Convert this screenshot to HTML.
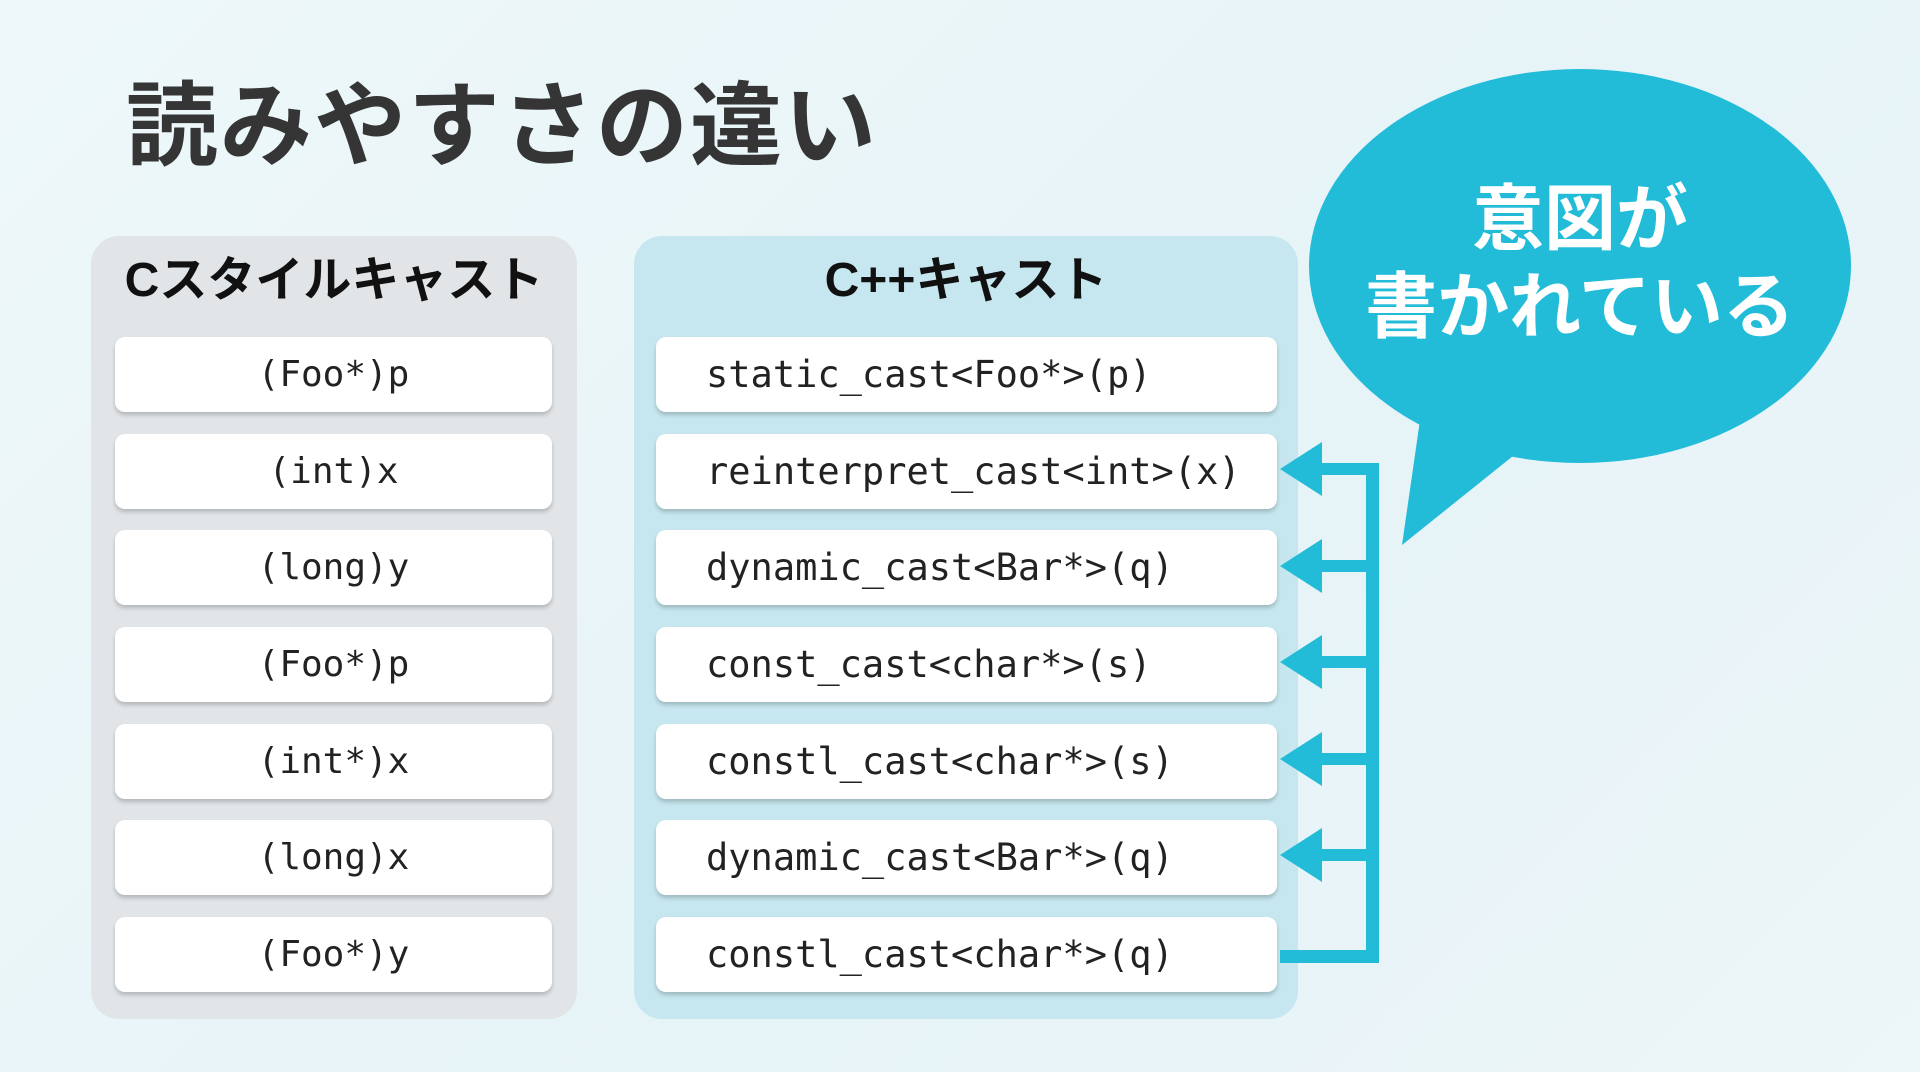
<!DOCTYPE html>
<html><head><meta charset="utf-8"><style>
*{margin:0;padding:0;box-sizing:border-box}
body{width:1920px;height:1072px;overflow:hidden;background:linear-gradient(135deg,#eef8fa,#e6f3f7 60%,#edf6f9);font-family:"Liberation Sans","Noto Sans CJK JP",sans-serif;position:relative}
.title{position:absolute;left:126px;top:72px;font-size:92px;font-weight:bold;color:#353535;letter-spacing:2px;line-height:1.2}
.panel{position:absolute;top:236px;height:783px;border-radius:28px}
.hdr{position:absolute;top:246px;font-size:48px;font-weight:bold;color:#111;text-align:center;line-height:70px}
.box{position:absolute;height:75px;background:#fff;border-radius:10px;box-shadow:0 3px 4px rgba(0,0,0,.2);font-family:"DejaVu Sans Mono","Liberation Mono",monospace;font-size:37px;color:#222;line-height:75px}
.l{left:115px;width:437px;text-align:center;font-size:36px}
.r{left:656px;width:621px;padding-left:50px}
.bt{position:absolute;color:#fff;font-weight:bold;font-size:72px;text-align:center;width:500px;left:1330px;line-height:1}
</style></head><body>
<div class="title">読みやすさの違い</div>
<div class="panel" style="left:91px;width:486px;background:#e1e5e7"></div>
<div class="panel" style="left:634px;width:664px;background:#c6e7ef"></div>
<div class="hdr" style="left:91px;width:486px">Cスタイルキャスト</div>
<div class="hdr" style="left:634px;width:664px">C++キャスト</div>

<div class="box l" style="top:337px">(Foo*)p</div>
<div class="box l" style="top:434px">(int)x</div>
<div class="box l" style="top:530px">(long)y</div>
<div class="box l" style="top:627px">(Foo*)p</div>
<div class="box l" style="top:724px">(int*)x</div>
<div class="box l" style="top:820px">(long)x</div>
<div class="box l" style="top:917px">(Foo*)y</div>

<div class="box r" style="top:337px">static_cast&lt;Foo*&gt;(p)</div>
<div class="box r" style="top:434px">reinterpret_cast&lt;int&gt;(x)</div>
<div class="box r" style="top:530px">dynamic_cast&lt;Bar*&gt;(q)</div>
<div class="box r" style="top:627px">const_cast&lt;char*&gt;(s)</div>
<div class="box r" style="top:724px">constl_cast&lt;char*&gt;(s)</div>
<div class="box r" style="top:820px">dynamic_cast&lt;Bar*&gt;(q)</div>
<div class="box r" style="top:917px">constl_cast&lt;char*&gt;(q)</div>

<svg width="1920" height="1072" style="position:absolute;left:0;top:0">
<g fill="#22bcd9">
<ellipse cx="1580" cy="266" rx="271" ry="197"/>
<polygon points="1420,420 1402,545 1518,452"/>
<rect x="1366" y="463" width="13" height="499"/>
<rect x="1280" y="950" width="99" height="13"/>
<g id="a"><rect x="1320" y="463" width="56" height="12"/><polygon points="1280,469 1322,442 1322,496"/></g>
<use href="#a" y="97"/><use href="#a" y="193"/><use href="#a" y="290"/><use href="#a" y="386"/>
</g>
</svg>
<div class="bt" style="top:184px">意図が</div>
<div class="bt" style="top:272px">書かれている</div>
</body></html>
